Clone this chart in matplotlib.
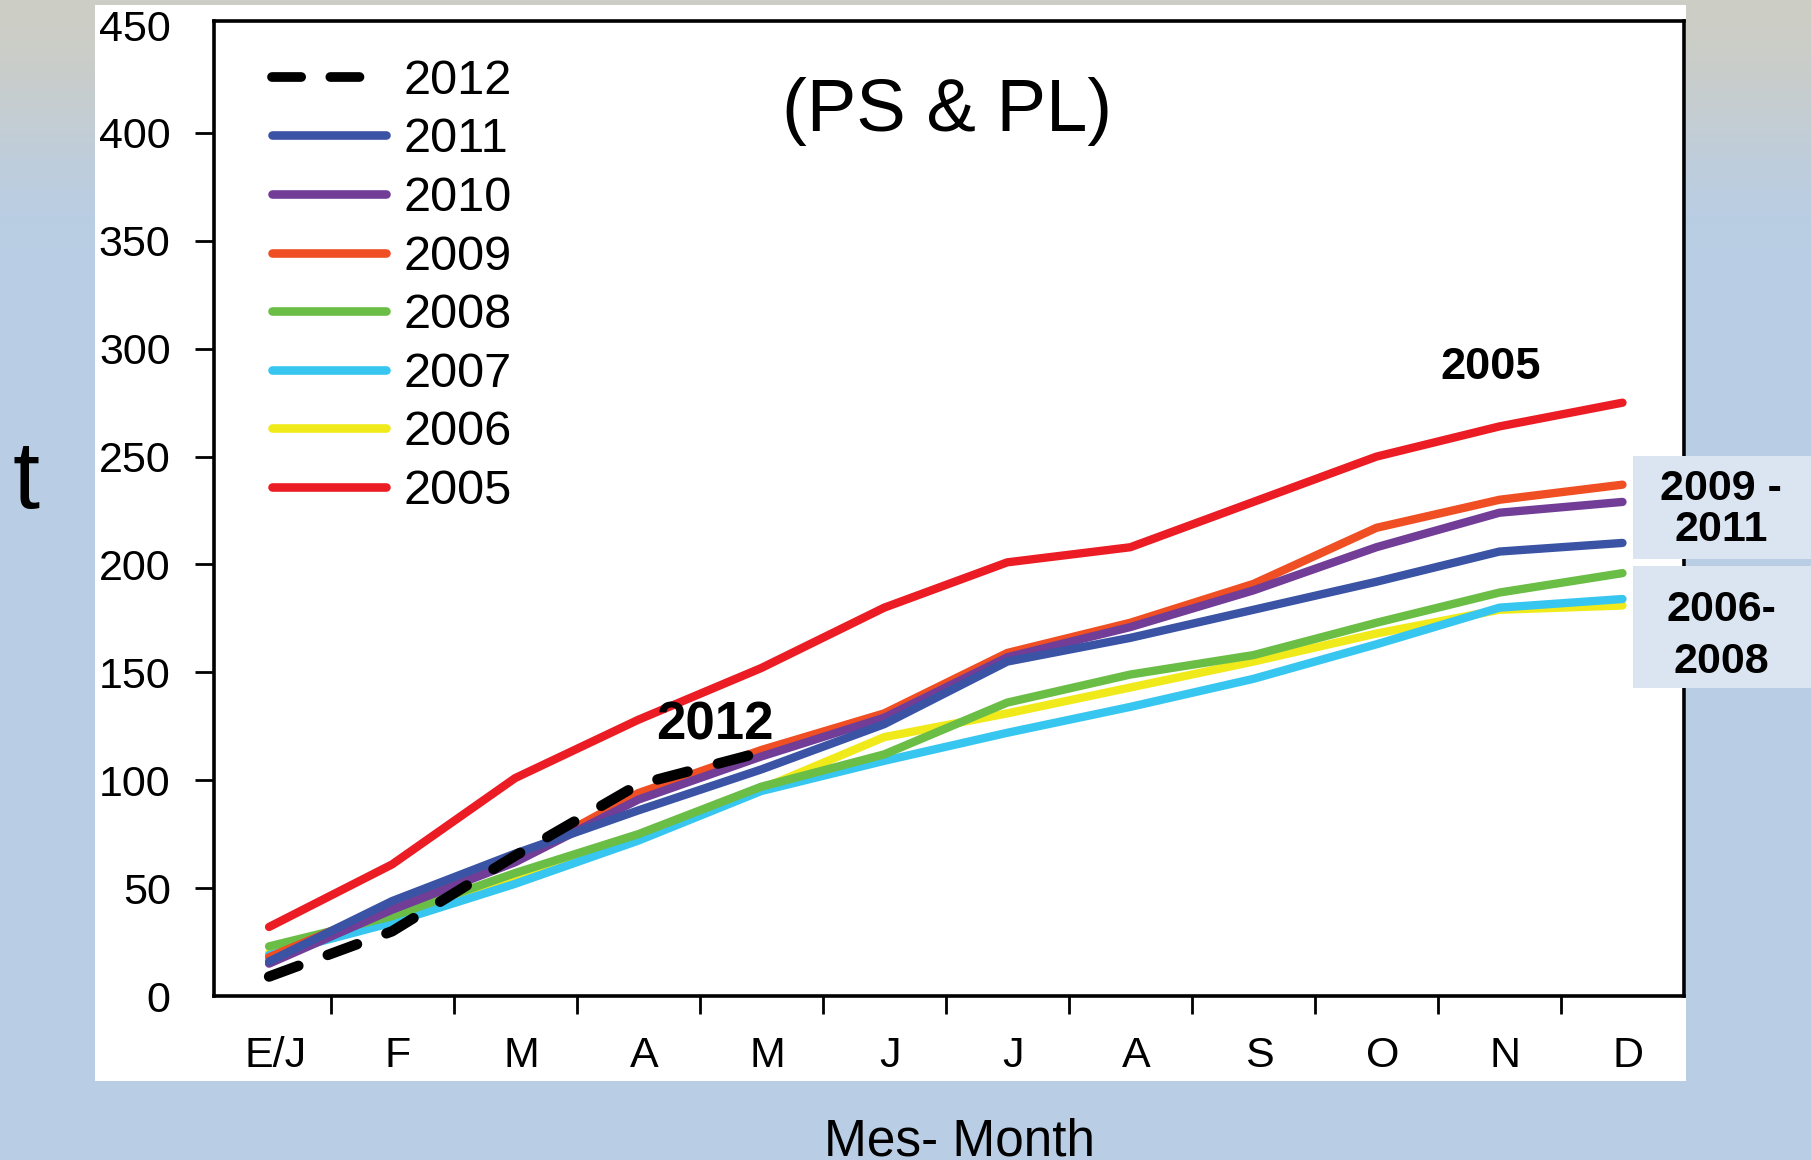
import numpy as np
import matplotlib
matplotlib.use('Agg')
import matplotlib.pyplot as plt
from matplotlib.patches import Rectangle
from matplotlib.transforms import ScaledTranslation

# ---------------- data ----------------
months = ['E/J', 'F', 'M', 'A', 'M', 'J', 'J', 'A', 'S', 'O', 'N', 'D']
years = ['2012', '2011', '2010', '2009', '2008', '2007', '2006', '2005']
v2012 = [9, 30, 65, 98, 113]
v2011 = [16, 44, 66, 86, 105, 126, 155, 166, 179, 192, 206, 210]
v2010 = [15, 40, 62, 91, 111, 129, 157, 171, 188, 208, 224, 229]
v2009 = [18, 42, 63, 94, 114, 131, 159, 173, 191, 217, 230, 237]
v2008 = [23, 37, 57, 75, 97, 112, 136, 149, 158, 173, 187, 196]
v2007 = [19, 34, 52, 72, 95, 109, 122, 134, 147, 163, 180, 184]
v2006 = [20, 36, 55, 73, 96, 120, 131, 143, 155, 168, 179, 181]
v2005 = [32, 61, 101, 128, 152, 180, 201, 208, 229, 250, 264, 275]
yticks = [0, 50, 100, 150, 200, 250, 300, 350, 400, 450]

colors = {'2012': 'black', '2011': '#3a53a4', '2010': '#713d97', '2009': '#f04e23',
          '2008': '#6abd45', '2007': '#37c6f0', '2006': '#f1ea1a', '2005': '#ec1c24'}
values = {'2012': v2012, '2011': v2011, '2010': v2010, '2009': v2009,
          '2008': v2008, '2007': v2007, '2006': v2006, '2005': v2005}
draw_order = ['2006', '2007', '2008', '2009', '2010', '2011', '2005', '2012']

plt.rcParams['font.family'] = ['Liberation Sans', 'DejaVu Sans']
NARROW = ['Liberation Sans Narrow', 'Liberation Sans', 'DejaVu Sans']

W, H = 1811, 1160
fig = plt.figure(figsize=(W / 100, H / 100), dpi=100)

# ---------------- background gradient ----------------
bg = fig.add_axes([0, 0, 1, 1], zorder=-5)
yy = np.arange(H)
t = np.clip(yy / 250.0, 0, 1)
t = t * t * (3 - 2 * t)
top = np.array([205, 206, 197]) / 255
bot = np.array([185, 205, 228]) / 255
grad = top[None, :] * (1 - t[:, None]) + bot[None, :] * t[:, None]
bg.imshow(grad[:, None, :], aspect='auto', extent=[0, 1, 0, 1], origin='upper')
bg.axis('off')

# white panel
fig.add_artist(Rectangle((95 / W, 1 - 1081 / H), (1686 - 95) / W, (1081 - 4.5) / H,
                         transform=fig.transFigure, facecolor='white',
                         edgecolor='none', zorder=1))

# ---------------- main axes ----------------
ax = fig.add_axes([213.7 / W, 1 - 996 / H, (1684 - 213.7) / W, (996 - 20.8) / H], zorder=2)
x = np.arange(len(months))
handles = {}
for yr in draw_order:
    vals = values[yr]
    if yr == '2012':
        ln, = ax.plot(x[:len(vals)], vals, color=colors[yr], lw=7.5,
                      dashes=(3.0, 3.0), dash_capstyle='round', zorder=5)
    else:
        ln, = ax.plot(x[:len(vals)], vals, color=colors[yr], lw=6,
                      solid_capstyle='round', solid_joinstyle='round', zorder=3)
    handles[yr] = ln

ax.set_xlim(-0.45, 11.5)
ax.set_ylim(0, 452)
for s in ax.spines.values():
    s.set_linewidth(2.6)

ax.set_yticks(yticks)
ax.set_yticklabels([str(v) for v in yticks])
ax.tick_params(axis='y', direction='out', length=14, width=2, pad=17, labelsize=31)
yt = ax.yaxis.get_major_ticks()
yt[0].tick1line.set_visible(False)
yt[-1].tick1line.set_visible(False)

ax.set_xticks(x)
ax.set_xticklabels(months)
ax.set_xticks(np.arange(0.5, 11, 1), minor=True)
ax.tick_params(axis='x', which='major', length=0, pad=29, labelsize=31)
ax.tick_params(axis='x', which='minor', direction='out', length=13, width=2)
for lab in ax.get_xticklabels():
    lab.set_transform(lab.get_transform() + ScaledTranslation(0.06, 0, fig.dpi_scale_trans))

leg = ax.legend([handles[y] for y in years], years, loc='upper left',
                bbox_to_anchor=(0.023, 0.986), frameon=False, fontsize=35,
                borderpad=0, handlelength=2.35, handletextpad=0.35, labelspacing=0.28)
for lh in leg.get_lines():
    lh.set_linewidth(6.2 if lh.get_linestyle() == '-' else 7)

# annotations in data space
ax.text(9.93, 286, '2005', ha='center', va='baseline', fontsize=32.5,
        fontweight='bold', family=NARROW, zorder=6)
ax.text(3.62, 119, '2012', ha='center', va='baseline', fontsize=38,
        fontweight='bold', family=NARROW, zorder=6)

# title and axis labels
fig.text(947 / W, 1 - 112 / H, '(PS & PL)', ha='center', va='center', fontsize=53.5)
fig.text(26 / W, 1 - 508 / H, 't', ha='center', va='baseline', fontsize=70)
fig.text(960 / W, 1 - 1155 / H, 'Mes- Month', ha='center', va='baseline', fontsize=37)

# side boxes
fig.add_artist(Rectangle((1633 / W, 1 - 559 / H), (W - 1633) / W, 103 / H,
                         transform=fig.transFigure, facecolor='#dbe5f1',
                         edgecolor='none', zorder=5))
fig.add_artist(Rectangle((1633 / W, 1 - 688 / H), (W - 1633) / W, 122 / H,
                         transform=fig.transFigure, facecolor='#dbe5f1',
                         edgecolor='none', zorder=5))
for txt, base in [('2009 -', 500), ('2011', 541), ('2006-', 621), ('2008', 673)]:
    fig.text(1721 / W, 1 - base / H, txt, ha='center', va='baseline', fontsize=31,
             fontweight='bold', family=NARROW, zorder=6)

fig.savefig('out.png', dpi=100)
